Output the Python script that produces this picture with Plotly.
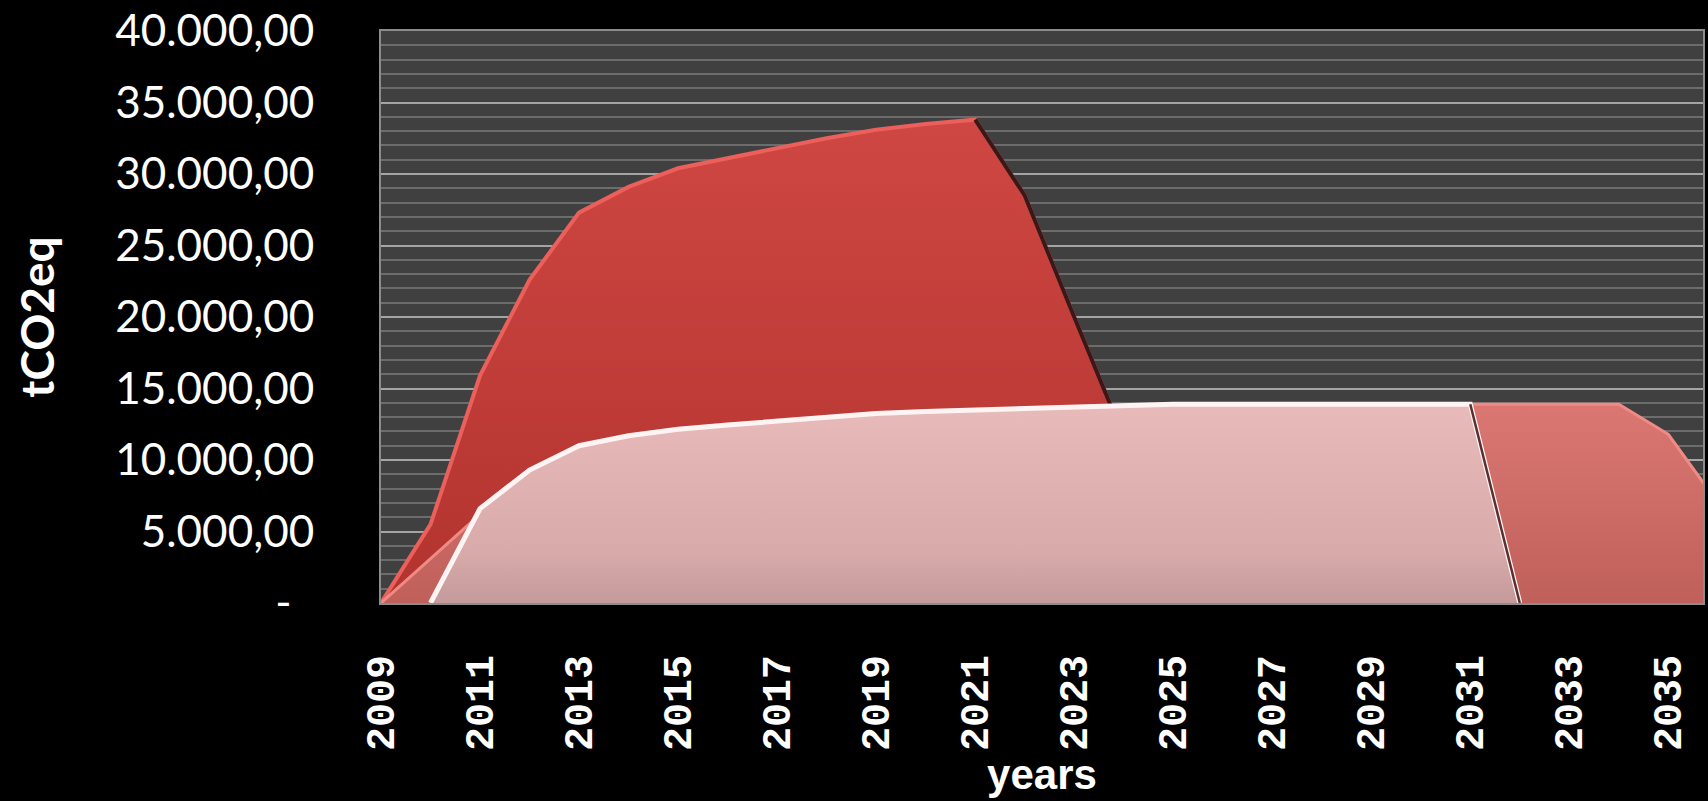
import plotly.graph_objects as go

# ---------------- data ----------------
years = list(range(2009, 2037))

# back series (dark red)
red_values = [0, 5500, 15900, 22600, 27300, 29100, 30400, 31100, 31800, 32500,
              33100, 33500, 33800, 28500, 20000, 11600,
              None, None, None, None, None, None, None, None, None, None, None, None]

# middle series (salmon) - visible left (2009-2011) and right (2031-2036)
salmon_values = [0, 3100, 6200, 9000, 10700, 11500, 12000, 12300, 12600, 12900,
                 13100, 13300, 13400, 13500, 13600, 13650, 13700, 13700, 13700, 13700,
                 13700, 13750, 13900, 13900, 13900, 13900, 11800, 7000]

# front series (light pink)
pink_values = [None, 0, 6600, 9300, 11000, 11700, 12150, 12450, 12700, 13000,
               13250, 13400, 13500, 13600, 13750, 13850, 13900, 13900, 13900, 13900,
               13900, 13900, 13900, 0, None, None, None, None]

y_tick_values = [0, 5000, 10000, 15000, 20000, 25000, 30000, 35000, 40000]
y_tick_labels = ["-\u00a0\u00a0", "5.000,00", "10.000,00", "15.000,00", "20.000,00",
                 "25.000,00", "30.000,00", "35.000,00", "40.000,00"]
x_tick_values = list(range(2009, 2036, 2))
x_tick_labels = [str(y) for y in x_tick_values]

y_title = "tCO2eq"
x_title = "years"

# ---------------- figure ----------------
fig = go.Figure()

# back: red
fig.add_trace(go.Scatter(
    x=years, y=red_values, mode="lines", fill="tozeroy",
    line=dict(color="#ec5f5a", width=4),
    fillgradient=dict(type="vertical", colorscale=[[0, "#b2332f"], [1, "#cf4742"]]),
    hoverinfo="skip", showlegend=False))

# shadow edge on the red drop
i0, i1 = years.index(2021), years.index(2024)
fig.add_trace(go.Scatter(
    x=years[i0:i1 + 1], y=red_values[i0:i1 + 1], mode="lines",
    line=dict(color="#3a1818", width=4),
    hoverinfo="skip", showlegend=False))

# middle: salmon
fig.add_trace(go.Scatter(
    x=years, y=salmon_values, mode="lines", fill="tozeroy",
    line=dict(color="#f08a85", width=3),
    fillgradient=dict(type="vertical", colorscale=[[0, "#c0605b"], [1, "#db7772"]]),
    hoverinfo="skip", showlegend=False))

# front: pink
fig.add_trace(go.Scatter(
    x=years, y=pink_values, mode="lines", fill="tozeroy",
    line=dict(color="#fff4f4", width=5),
    fillgradient=dict(type="vertical", colorscale=[[0, "#c49a9a"], [0.25, "#d8aaaa"], [1, "#e9baba"]]),
    hoverinfo="skip", showlegend=False))

# dark edge on pink drop
j0, j1 = years.index(2031), years.index(2032)
fig.add_trace(go.Scatter(
    x=years[j0:j1 + 1], y=pink_values[j0:j1 + 1], mode="lines",
    line=dict(color="#5a3030", width=2.5),
    hoverinfo="skip", showlegend=False))

fig.update_layout(
    width=1708, height=801,
    paper_bgcolor="black", plot_bgcolor="#404040",
    margin=dict(l=381, r=3, t=30, b=198),
    showlegend=False,
)

fig.update_xaxes(
    range=[2009, 2035.7], tickvals=x_tick_values, ticktext=x_tick_labels,
    tickangle=-90, ticklabelstandoff=34,
    tickfont=dict(family="Liberation Mono", size=40, color="white", weight="bold"),
    showgrid=False, zeroline=False,
    showline=True, mirror=True, linecolor="#8c8c8c", linewidth=2,
    title=dict(text=x_title, standoff=6,
               font=dict(family="Liberation Sans", size=42, color="white", weight="bold")),
)

fig.update_yaxes(
    range=[0, 40000], tickvals=y_tick_values, ticktext=y_tick_labels,
    ticklabelstandoff=56,
    tickfont=dict(family="Lato", size=44, color="white"),
    showgrid=True, gridcolor="#a4a4a4", gridwidth=2,
    minor=dict(dtick=1000, showgrid=True, gridcolor="#6c6c6c", gridwidth=1.5),
    zeroline=False,
    showline=True, mirror=True, linecolor="#8c8c8c", linewidth=2,
    title=dict(text=y_title, standoff=46,
               font=dict(family="Lato", size=46, color="white", weight="bold")),
)

fig.write_html("out.html", config={"displayModeBar": False},
               post_script="document.body.style.margin='0';document.body.style.overflow='hidden';")
